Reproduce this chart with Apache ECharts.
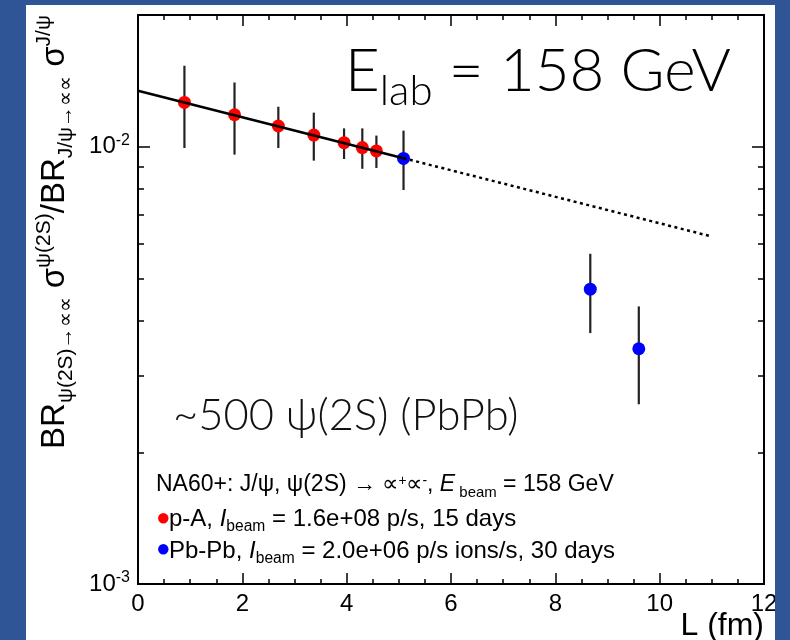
<!DOCTYPE html>
<html><head><meta charset="utf-8">
<script src="https://cdn.jsdelivr.net/npm/echarts@6/dist/echarts.min.js"></script>
<style>html,body{margin:0;padding:0;background:#2f5597}#c{width:790px;height:640px}</style>
</head><body><div id="c"></div>
<script>
// ---- data ----
const pAL    = [0.89, 1.85, 2.69, 3.37, 3.95, 4.30, 4.57];
const pAVal  = [0.01262, 0.01183, 0.01115, 0.01063, 0.01021, 0.00995, 0.00978];
const pALow  = [0.00993, 0.00959, 0.00993, 0.00929, 0.00937, 0.00890, 0.00894];
const pAHigh = [0.01531, 0.01402, 0.01234, 0.01196, 0.01101, 0.01101, 0.01060];
const pbL    = [5.09, 8.67, 9.60];
const pbVal  = [0.00940, 0.004723, 0.003451];
const pbLow  = [0.00796, 0.003747, 0.002576];
const pbHigh = [0.01088, 0.005689, 0.004312];
const fitSolidL = [0, 5.09];
const fitSolidV = [0.01342, 0.00941];
const fitDotL   = [5.09, 11];
const fitDotV   = [0.00941, 0.00623];
const xTickLabels = [0, 2, 4, 6, 8, 10, 12];
const yMajor = [0.001, 0.01];
const yMinor = [0.002, 0.003, 0.004, 0.005, 0.006, 0.007, 0.008, 0.009, 0.02];
const yLabelText = {'0.001': '-3', '0.01': '-2'};

const BLUE_BG = '#2f5597';
const FONT = 'Liberation Sans, Arial, sans-serif';

const chart = echarts.init(document.getElementById('c'), null, {renderer: 'canvas'});

function xAxisCfg(pos, showLabel) {
  return {
    type: 'value', position: pos, min: 0, max: 12, interval: 2,
    axisLine: {show: true, onZero: false, lineStyle: {color: '#000', width: 2}},
    axisTick: {show: true, inside: true, length: 11, lineStyle: {color: '#000', width: 1.5}},
    minorTick: {show: true, splitNumber: 4, length: 5, lineStyle: {color: '#000', width: 1.5}},
    splitLine: {show: false}, minorSplitLine: {show: false},
    axisLabel: {show: showLabel, fontSize: 24, color: '#000', margin: 8, fontFamily: FONT,
      showMinLabel: true, showMaxLabel: true,
      formatter: v => xTickLabels.indexOf(v) >= 0 ? String(v) : ''}
  };
}
function yAxisCfg(pos, major, showLabel) {
  return {
    type: 'log', logBase: 10, position: pos, min: 0.001, max: 0.02,
    axisLine: {show: true, onZero: false, lineStyle: {color: '#000', width: 2}},
    axisTick: {show: true, inside: true, length: major ? 12 : 6,
      customValues: major ? yMajor : yMinor, lineStyle: {color: '#000', width: 1.5}},
    splitLine: {show: false},
    axisLabel: {show: showLabel, customValues: yMajor, margin: 8, color: '#000',
      formatter: v => {
        const k = String(+v.toPrecision(3));
        return yLabelText[k] ? '{b|10}{s|' + yLabelText[k] + '}' : '';
      },
      rich: {
        b: {fontSize: 24, fontFamily: FONT, color: '#000'},
        s: {fontSize: 16, fontFamily: FONT, color: '#000', padding: [0, 0, 12, 0]}
      }}
  };
}

const errData = pAL.map((x, i) => [x, pALow[i], pAHigh[i]])
  .concat(pbL.map((x, i) => [x, pbLow[i], pbHigh[i]]));

function errRender(params, api) {
  const a = api.coord([api.value(0), api.value(1)]);
  const b = api.coord([api.value(0), api.value(2)]);
  return {type: 'line', shape: {x1: a[0], y1: a[1], x2: b[0], y2: b[1]},
    style: {stroke: '#222', lineWidth: 2.2}};
}

function legendRich(fs) {
  return {
    n:   {fontSize: fs, fontFamily: FONT, color: '#000'},
    i:   {fontSize: fs, fontFamily: FONT, fontStyle: 'italic', color: '#000'},
    sub: {fontSize: fs * 0.65, fontFamily: FONT, color: '#000', padding: [16, 0, 0, 0]},
    sup: {fontSize: fs * 0.6, fontFamily: FONT, color: '#000', padding: [0, 0, 8, 0]}
  };
}

const titleRich = {
  m:  {fontSize: 33, fontFamily: FONT, color: '#000'},
  sb: {fontSize: 21, fontFamily: FONT, color: '#000', padding: [23, 0, 0, 0]},
  sp: {fontSize: 21, fontFamily: FONT, color: '#000', padding: [0, 0, 21, 0]}
};

const greenRich = {
  m: {fontSize: 60, fontFamily: 'Lato, sans-serif', fontWeight: 300, color: '#92d050'},
  s: {fontSize: 42, fontFamily: 'Lato, sans-serif', fontWeight: 300, color: '#92d050', padding: [38, 0, 0, 0]}
};

const option = {
  backgroundColor: BLUE_BG,
  animation: false,
  grid: {left: 138, right: 26, top: 15, bottom: 56, containLabel: false},
  xAxis: [xAxisCfg('bottom', true), xAxisCfg('top', false)],
  yAxis: [yAxisCfg('left', true, true), yAxisCfg('left', false, false),
          yAxisCfg('right', true, false), yAxisCfg('right', false, false)],
  graphic: [
    {type: 'rect', z: -100, silent: true, shape: {x: 26, y: 5, width: 749, height: 640}, style: {fill: '#fff'}},
    {type: 'rect', z: 100, silent: true, shape: {x: 775, y: 0, width: 15, height: 640}, style: {fill: BLUE_BG}},
    {type: 'text', z: 50, x: 345, y: 72, style: {
      text: '{m|E}{s|lab}{m| = 158 GeV}', rich: greenRich, align: 'left', verticalAlign: 'middle'}},
    {type: 'text', z: 50, x: 173, y: 415.6, style: {
      text: '~500 \u03c8(2S) (PbPb)', fontSize: 43.5, fontFamily: 'Lato, sans-serif', fontWeight: 300,
      fill: '#111', align: 'left', verticalAlign: 'middle'}},
    {type: 'text', z: 50, x: 156, y: 485, style: {
      text: '{n|NA60+: J/\u03c8, \u03c8(2S) \u2192 \u221d}{sup|+}{n|\u221d}{sup|-}{n|, }{i|E}{sub| beam}{n| = 158 GeV}',
      rich: legendRich(23), align: 'left', verticalAlign: 'middle'}},
    {type: 'text', z: 50, x: 169, y: 519, style: {
      text: '{n|p-A, }{i|I}{sub|beam}{n| = 1.6e+08 p/s, 15 days}',
      rich: legendRich(24), align: 'left', verticalAlign: 'middle'}},
    {type: 'text', z: 50, x: 169, y: 551, style: {
      text: '{n|Pb-Pb, }{i|I}{sub|beam}{n| = 2.0e+06 p/s ions/s, 30 days}',
      rich: legendRich(24), align: 'left', verticalAlign: 'middle'}},
    {type: 'circle', z: 50, shape: {cx: 163.3, cy: 518.3, r: 5.2}, style: {fill: '#ff0000'}},
    {type: 'circle', z: 50, shape: {cx: 163.3, cy: 549.3, r: 5.2}, style: {fill: '#0000ff'}},
    {type: 'text', z: 50, x: 764, y: 626, style: {
      text: 'L (fm)', fontSize: 32, fontFamily: FONT, fill: '#000', align: 'right', verticalAlign: 'middle'}},
    {type: 'text', z: 50, x: 55, y: 232, rotation: Math.PI / 2, style: {
      text: '{m|BR}{sb|\u03c8(2S)\u2192\u221d\u221d}{m| \u03c3}{sp|\u03c8(2S)}{m|/BR}{sb|J/\u03c8\u2192\u221d\u221d}{m| \u03c3}{sp|J/\u03c8}',
      rich: titleRich, align: 'center', verticalAlign: 'middle'}}
  ],
  series: [
    {type: 'custom', name: 'err', xAxisIndex: 0, yAxisIndex: 0, data: errData,
      renderItem: errRender, encode: {x: 0, y: [1, 2]}, z: 2, silent: true},
    {type: 'scatter', name: 'p-A', xAxisIndex: 0, yAxisIndex: 0,
      data: pAL.map((x, i) => [x, pAVal[i]]), symbolSize: 13, itemStyle: {color: '#ff0000', opacity: 1}, z: 3},
    {type: 'scatter', name: 'Pb-Pb', xAxisIndex: 0, yAxisIndex: 0,
      data: pbL.map((x, i) => [x, pbVal[i]]), symbolSize: 13, itemStyle: {color: '#0000ff', opacity: 1}, z: 3},
    {type: 'line', name: 'fit', xAxisIndex: 0, yAxisIndex: 0, symbol: 'none', showSymbol: false,
      data: fitSolidL.map((x, i) => [x, fitSolidV[i]]), lineStyle: {color: '#000', width: 2.5}, z: 4, silent: true},
    {type: 'line', name: 'extrap', xAxisIndex: 0, yAxisIndex: 0, symbol: 'none', showSymbol: false,
      data: fitDotL.map((x, i) => [x, fitDotV[i]]), lineStyle: {color: '#000', width: 2.5, type: [3, 3.5]}, z: 4, silent: true}
  ]
};
chart.setOption(option);
</script></body></html>
